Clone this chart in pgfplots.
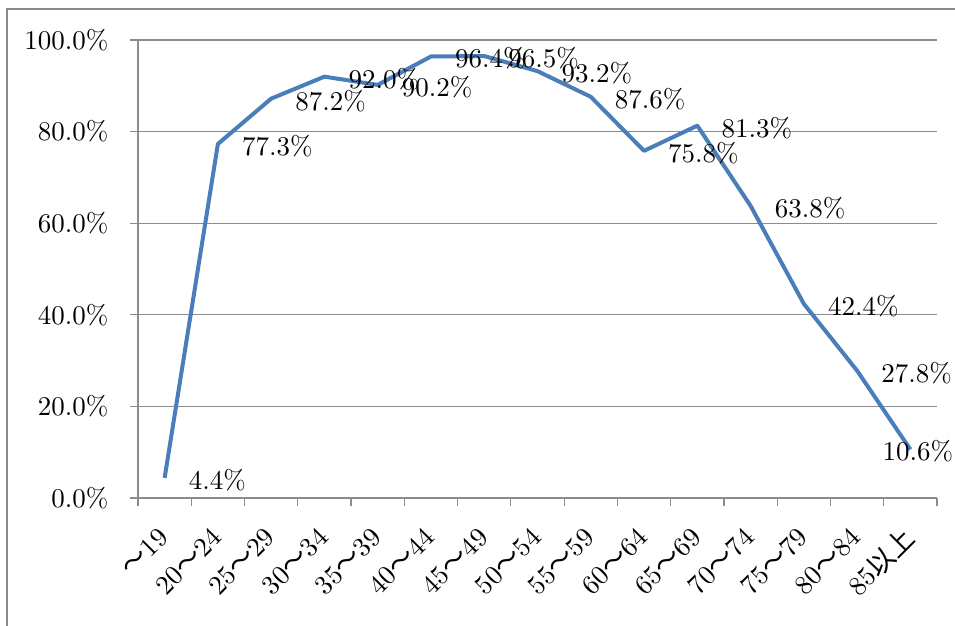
\documentclass[border=0pt]{standalone}
\usepackage{fontspec}
\usepackage{pgfplots}
\usepackage{pgfplotstable}
\pgfplotsset{compat=1.18}
\setmainfont{lmroman10-regular.otf}
\newfontfamily\cjk{Noto Sans CJK JP}
\definecolor{lineblue}{HTML}{4A7EBB}
\definecolor{gridgray}{HTML}{8C8C8C}
\definecolor{framegray}{HTML}{8A8A8A}

\pgfplotstableread{
x y
0 4.4
1 77.3
2 87.2
3 92.0
4 90.2
5 96.4
6 96.5
7 93.2
8 87.6
9 75.8
10 81.3
11 63.8
12 42.4
13 27.8
14 10.6
}\rates

\newcommand{\lblfont}{\fontsize{27}{32}\selectfont}

\begin{document}
\begin{tikzpicture}
\begin{axis}[
  at={(138pt,-498pt)}, anchor=south west,
  scale only axis, width=799pt, height=458pt,
  xmin=-0.5, xmax=14.5, ymin=0, ymax=100,
  axis x line*=bottom, axis y line*=left,
  axis line style={gridgray, line width=1.2pt, -},
  xtick={-0.5,0.5,1.5,2.5,3.5,4.5,5.5,6.5,7.5,8.5,9.5,10.5,11.5,12.5,13.5,14.5},
  x tick label as interval,
  xticklabels={{\cjk ～}19,20{\cjk ～}24,25{\cjk ～}29,30{\cjk ～}34,35{\cjk ～}39,
    40{\cjk ～}44,45{\cjk ～}49,50{\cjk ～}54,55{\cjk ～}59,60{\cjk ～}64,
    65{\cjk ～}69,70{\cjk ～}74,75{\cjk ～}79,80{\cjk ～}84,85{\cjk 以上}},
  ytick={0,20,40,60,80,100},
  /pgf/number format/assume math mode=true,
  yticklabel={\pgfmathprintnumber[fixed,fixed zerofill,precision=1]{\tick}\%},
  ymajorgrids,
  grid style={gridgray, line width=1.2pt},
  tick align=outside, major tick length=8pt,
  tick style={gridgray, line width=1.2pt},
  ticklabel style={font=\lblfont, text=black},
  xticklabel style={yshift=-26pt, rotate=45, anchor=east, inner sep=1pt},
  yticklabel style={xshift=-18pt},
  clip=false,
]
\addplot[lineblue, line width=4pt, line join=round, mark=none] table {\rates};
\addplot[draw=none, mark=none, restrict x to domain=-1:13.5,
  nodes near coords={\pgfmathprintnumber[fixed,fixed zerofill,precision=1]{\pgfplotspointmeta}\%},
  nodes near coords style={anchor=west, inner sep=0pt, xshift=24pt, yshift=-2pt, font=\lblfont, text=black}]
  table {\rates};
\addplot[draw=none, mark=none, restrict x to domain=13.5:15,
  nodes near coords={\pgfmathprintnumber[fixed,fixed zerofill,precision=1]{\pgfplotspointmeta}\%},
  nodes near coords style={anchor=west, inner sep=0pt, xshift=-28pt, yshift=-2pt, font=\lblfont, text=black}]
  table {\rates};
\end{axis}
\draw[framegray, line width=2.5pt] (7pt,-640pt) -- (7pt,-9pt) -- (970pt,-9pt);
\pgfresetboundingbox
\path[use as bounding box] (0pt,0pt) rectangle (955pt,-625pt);
\end{tikzpicture}
\end{document}
